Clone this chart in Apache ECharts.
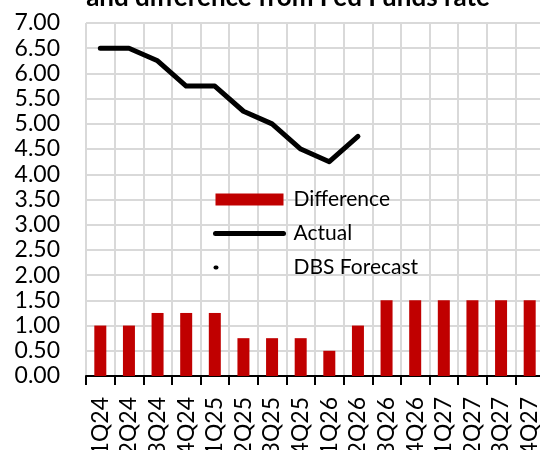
<!DOCTYPE html>
<html>
<head>
<meta charset="utf-8">
<script src="https://cdn.jsdelivr.net/npm/echarts@6/dist/echarts.min.js"></script>
<style>html,body{margin:0;padding:0;background:#fff}#c{width:540px;height:450px}</style>
</head>
<body>
<div id="c"></div>
<script>
const categories = ['1Q24','2Q24','3Q24','4Q24','1Q25','2Q25','3Q25','4Q25','1Q26','2Q26','3Q26','4Q26','1Q27','2Q27','3Q27','4Q27'];
const difference = [1.00,1.00,1.25,1.25,1.25,0.75,0.75,0.75,0.50,1.00,1.50,1.50,1.50,1.50,1.50,1.50];
const actual = [6.50,6.50,6.25,5.75,5.75,5.25,5.00,4.50,4.25,4.75,null,null,null,null,null,null];
const forecast = [null,null,null,null,null,null,null,null,null,null,null,null,null,null,null,null];
const yTicks = ['0.00','0.50','1.00','1.50','2.00','2.50','3.00','3.50','4.00','4.50','5.00','5.50','6.00','6.50','7.00'];
const titleText = 'and difference from Fed Funds rate';

const FONT = 'Lato';
const chart = echarts.init(document.getElementById('c'), null, {renderer: 'canvas'});
chart.setOption({
  animation: false,
  backgroundColor: '#fff',
  title: {
    text: titleText,
    left: 283, top: -20, textAlign: 'center',
    textStyle: {fontFamily: FONT, fontSize: 26, fontWeight: 'bold', color: '#000'}
  },
  legend: {
    orient: 'vertical', left: 208, top: 184,
    itemWidth: 68, itemHeight: 12, itemGap: 13,
    textStyle: {fontFamily: FONT, fontSize: 21, color: '#000', padding: [0,0,0,5]},
    data: [
      {name: 'Difference', icon: 'rect'},
      {name: 'Actual', itemStyle: {opacity: 0}, lineStyle: {width: 5, color: '#000', cap: 'round'}},
      {name: 'DBS Forecast', itemStyle: {opacity: 0}, lineStyle: {width: 4, color: '#000', type: [1, 300], cap: 'round'}}
    ]
  },
  grid: {left: 86, right: -4, top: 23, bottom: 74, containLabel: false, outerBoundsMode: 'none'},
  xAxis: {
    type: 'category', data: categories, boundaryGap: true,
    axisLine: {show: true, lineStyle: {color: '#000', width: 2}},
    axisTick: {show: true, length: 9, lineStyle: {color: '#000', width: 2}},
    axisLabel: {rotate: 90, margin: 21, fontFamily: FONT, fontSize: 23, color: '#000', interval: 0},
    splitLine: {show: true, lineStyle: {color: '#d9d9d9', width: 2}}
  },
  yAxis: {
    type: 'value', min: 0, max: 7, interval: 0.5,
    axisLine: {show: false}, axisTick: {show: false},
    axisLabel: {margin: 26, fontFamily: FONT, fontSize: 23, color: '#000',
      formatter: function (v) { return yTicks[Math.round(v / 0.5)]; }},
    splitLine: {show: true, lineStyle: {color: '#d9d9d9', width: 2}}
  },
  series: [
    {name: 'Difference', type: 'bar', data: difference, barWidth: 12,
     itemStyle: {color: '#c00000'}},
    {name: 'Actual', type: 'line', data: actual, symbol: 'none', connectNulls: false,
     lineStyle: {color: '#000', width: 5, cap: 'round', join: 'round'},
     itemStyle: {color: '#000'}},
    {name: 'DBS Forecast', type: 'line', data: forecast, symbol: 'none',
     lineStyle: {color: '#000', width: 4, type: [1, 300], cap: 'round'},
     itemStyle: {color: '#000'}}
  ]
});
</script>
</body>
</html>
